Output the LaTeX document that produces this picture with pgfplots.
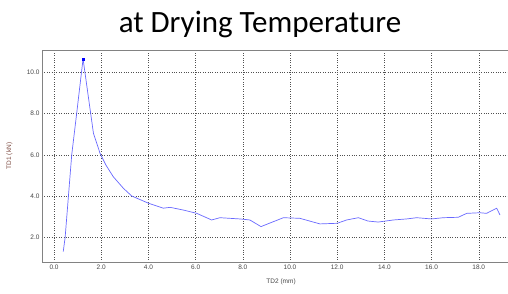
\documentclass[border=0pt]{standalone}
\usepackage{pgfplots}
\pgfplotsset{compat=1.18}
\usepackage{fontspec}
\setmainfont{Liberation Sans}
\newfontfamily\titlefont{Carlito}
\definecolor{tickgray}{RGB}{70,70,70}
\definecolor{axgray}{RGB}{130,130,130}
\definecolor{gridgray}{RGB}{80,80,80}
\definecolor{ylab}{RGB}{125,75,65}
\definecolor{lineblue}{RGB}{105,105,255}
\begin{document}
\begin{tikzpicture}[x=1pt,y=1pt]
\useasboundingbox (0,0) rectangle (508,293);
\node[anchor=base,font=\titlefont\fontsize{31}{34}\selectfont] at (260,261) {at Drying Temperature};
\begin{axis}[
  at={(42pt,31pt)}, anchor=south west,
  scale only axis, width=466pt, height=212pt,
  xmin=-0.51, xmax=19.24, ymin=0.82, ymax=11.06,
  axis x line*=box, axis y line*=left,
  axis line style={axgray, line width=0.8pt},
  xtick={0,2,...,18}, ytick={2,4,6,8,10},
  tick style={draw=none},
  grid=major,
  major grid style={gridgray, dotted, line width=0.5pt},
  ticklabel style={font=\fontsize{6.5}{7}\selectfont, text=tickgray},
  /pgf/number format/.cd, fixed, fixed zerofill, precision=1, assume math mode=true,
  /pgfplots/.cd,
  xticklabel style={yshift=1pt},
  yticklabel style={xshift=1pt},
  xlabel={TD2 (mm)},
  xlabel style={at={(axis description cs:0.513,0)}, anchor=north, yshift=-13pt, font=\fontsize{6.5}{7}\selectfont, text=tickgray},
  ylabel={TD1 (kN)},
  ylabel style={at={(axis description cs:0,0.5)}, anchor=south, yshift=26pt, font=\fontsize{6.5}{7}\selectfont, text=ylab},
  clip=false,
]
\addplot[lineblue, line width=0.7pt, line join=round] coordinates {
(0.39,1.32)(0.47,2.0)(0.61,4.0)(0.75,6.0)(0.96,8.0)(1.23,10.63)
(1.67,7.04)(1.95,6.07)(2.2,5.5)(2.51,4.94)(2.94,4.38)(3.29,4.01)(4.0,3.66)
(4.63,3.42)(4.92,3.46)(5.48,3.33)(6.05,3.17)(6.68,2.85)(7.03,2.96)(7.88,2.90)
(8.3,2.85)(8.77,2.53)(9.72,2.96)(10.42,2.93)(11.27,2.66)(12.0,2.69)(12.4,2.85)
(12.9,2.96)(13.3,2.80)(13.74,2.75)(14.38,2.85)(14.94,2.90)(15.37,2.96)(16.0,2.90)
(16.5,2.96)(17.13,2.98)(17.49,3.17)(18.05,3.20)(18.33,3.17)(18.76,3.42)(18.9,3.09)
};
\addplot[only marks, mark=square*, mark size=1.2pt, color=blue] coordinates {(1.23,10.63)};
\end{axis}
\end{tikzpicture}
\end{document}
